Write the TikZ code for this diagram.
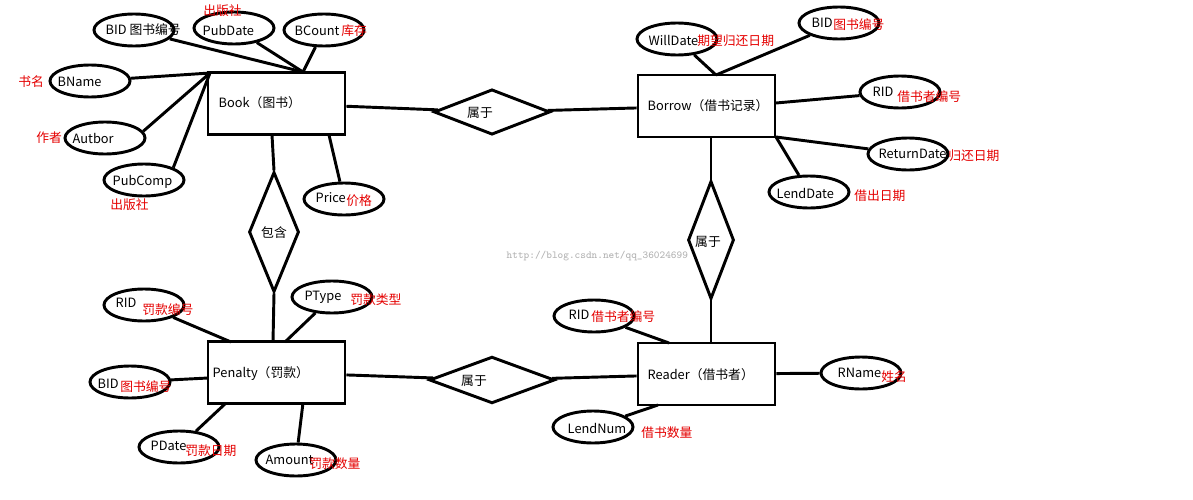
\documentclass[tikz,border=0pt]{standalone}
\usepackage{fontspec}
\setmainfont{Noto Sans CJK SC}
\usetikzlibrary{shapes.geometric}
\begin{document}
\begin{tikzpicture}[x=0.75pt,y=-0.75pt,
  every node/.style={font=\fontsize{9.6}{11}\selectfont},
  ent/.style={draw,line width=2.2pt,minimum width=102.75pt,minimum height=46.5pt,inner sep=0pt},
  rel/.style={draw,diamond,line width=2.2pt,inner sep=0pt},
  att/.style={draw,ellipse,line width=2.2pt,minimum width=60pt,minimum height=24pt,inner sep=0pt},
  lnk/.style={line width=2.2pt},
  red/.style={text=red!90!black,inner sep=0pt}]
\useasboundingbox (0,0) rectangle (1193,500);
\fill[white] (0,0) rectangle (1193,500);
% entities
\node[ent] (book) at (276.5,103.5) {};
\node[anchor=west] at (214,103) {Book（图书）};
\node[ent] (borrow) at (706.5,106) {};
\node[anchor=west] at (643,106) {Borrow（借书记录）};
\node[ent] (pen) at (276.5,372.5) {};
\node[anchor=west] at (208,374) {Penalty（罚款）};
\node[ent] (reader) at (706.5,374) {};
\node[anchor=west] at (643,375) {Reader（借书者）};
% relations
\node[rel,minimum width=87pt,minimum height=34pt] (r1) at (492,112) {};
\node at (480,113) {属于};
\node[rel,minimum width=37.5pt,minimum height=90pt] (r2) at (274,232) {};
\node at (274,233) {包含};
\node[rel,minimum width=34.5pt,minimum height=88.5pt] (r3) at (711,240) {};
\node at (708,242) {属于};
\node[rel,minimum width=94pt,minimum height=35pt] (r4) at (492,380) {};
\node at (474,381) {属于};
% attributes of Book
\node[att] (bid1) at (134,30) {}; \node[anchor=west] at (101,30) {BID 图书编号};
\node[att] (pubd) at (234,28) {}; \node[anchor=west] at (198,30) {PubDate};
\node[red,anchor=west] at (203,11) {出版社};
\node[att] (bcnt) at (324,30) {}; \node[anchor=west] at (290,31) {BCount};
\node[red,anchor=west] at (341,31) {库存};
\node[att] (bname) at (90,81) {}; \node[anchor=west] at (53,82) {BName};
\node[red,anchor=west] at (18,82) {书名};
\node[att] (aut) at (105,138) {}; \node[anchor=west] at (68,138) {Autbor};
\node[red,anchor=west] at (36,138) {作者};
\node[att] (pcomp) at (144,180) {}; \node[anchor=west] at (108,182) {PubComp};
\node[red,anchor=west] at (110,205) {出版社};
\node[att] (price) at (344,199) {}; \node[anchor=west] at (311,198) {Price};
\node[red,anchor=west] at (346,201) {价格};
\coordinate (bk1) at (303,72); \coordinate (bk2) at (210,73);
\draw[lnk] (bid1) -- (bk1); \draw[lnk] (pubd) -- (bk1); \draw[lnk] (bcnt) -- (bk1);
\draw[lnk] (bname) -- (bk2); \draw[lnk] (aut.10) -- (bk2); \draw[lnk] (pcomp.north east) -- (bk2);
\draw[lnk] (329,135) -- (price);
% attributes of Borrow
\node[att] (will) at (677,39) {}; \node[anchor=west] at (644,40) {WillDate};
\node[red,anchor=west] at (697,41) {期望归还日期};
\node[att] (bid2) at (839,23) {}; \node[anchor=west] at (807,23) {BID};
\node[red,anchor=west] at (833,25) {图书编号};
\node[att] (rid1) at (900,92) {}; \node[anchor=west] at (868,92) {RID};
\node[red,anchor=west] at (897,97) {借书者编号};
\node[att] (ret) at (908,154) {}; \node[anchor=west] at (874,154) {ReturnDate};
\node[red,anchor=west] at (948,156) {归还日期};
\node[att] (lend) at (809,192) {}; \node[anchor=west] at (772,193) {LendDate};
\node[red,anchor=west] at (854,196) {借出日期};
\coordinate (bw1) at (716,75);
\draw[lnk] (will) -- (bw1); \draw[lnk] (bid2) -- (bw1);
\draw[lnk] (rid1) -- (776,103);
\draw[lnk] (ret) -- (776,137);
\draw[lnk] (lend) -- (776,137);
% attributes of Penalty
\node[att] (rid2) at (144,305) {}; \node[anchor=west] at (111,303) {RID};
\node[red,anchor=west] at (142,310) {罚款编号};
\node[att] (ptype) at (332,297) {}; \node[anchor=west] at (300,297) {PType};
\node[red,anchor=west] at (350,300) {罚款类型};
\node[att] (bid3) at (130,382) {}; \node[anchor=west] at (93,384) {BID};
\node[red,anchor=west] at (120,387) {图书编号};
\node[att] (pdate) at (179,447) {}; \node[anchor=west] at (146,446) {PDate};
\node[red,anchor=west] at (185,451) {罚款日期};
\node[att] (amt) at (296,460) {}; \node[anchor=west] at (261,460) {Amount};
\node[red,anchor=west] at (309,464) {罚款数量};
\draw[lnk] (rid2) -- (231,342);
\draw[lnk] (ptype) -- (285,342);
\draw[lnk] (bid3) -- (208,378);
\draw[lnk] (pdate) -- (226,403);
\draw[lnk] (amt) -- (303,403);
% attributes of Reader
\node[att] (rid3) at (594,316) {}; \node[anchor=west] at (564,315) {RID};
\node[red,anchor=west] at (591,317) {借书者编号};
\node[att] (lnum) at (593,427) {}; \node[anchor=west] at (563,428) {LendNum};
\node[red,anchor=west] at (641,433) {借书数量};
\node[att] (rname) at (861,373) {}; \node[anchor=west] at (833,373) {RName};
\node[red,anchor=west] at (881,377) {姓名};
\draw[lnk] (rid3) -- (669,343);
\draw[lnk] (lnum) -- (658,405);
\draw[lnk] (rname) -- (reader);
% relationships links
\draw[lnk] (book) -- (r1); \draw[lnk] (r1) -- (borrow);
\draw[lnk] (r2.north) -- (272,135); \draw[lnk] (r2.south) -- (273,342);
\draw[lnk] (borrow.south -| r3) -- (r3.north); \draw[lnk] (r3.south) -- (reader.north -| r3);
\draw[lnk] (pen) -- (r4); \draw[lnk] (r4) -- (reader);
% watermark
\node[text=black!30,font=\ttfamily\fontsize{8}{9}\selectfont,anchor=west] at (502,256) {http://blog.csdn.net/qq\_36024699};
\end{tikzpicture}
\end{document}
